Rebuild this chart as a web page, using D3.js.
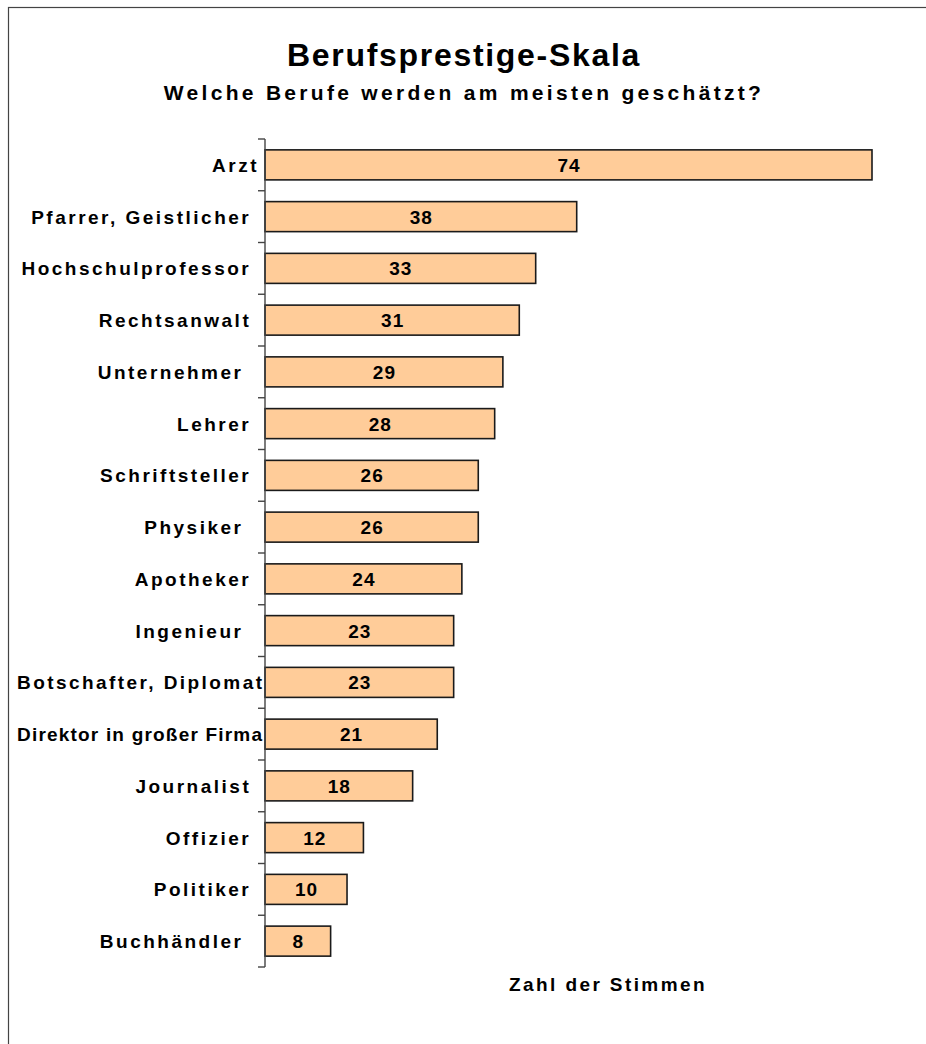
<!DOCTYPE html>
<html>
<head>
<meta charset="utf-8">
<script src="https://cdn.jsdelivr.net/npm/d3@7"></script>
<style>
  html, body { margin: 0; padding: 0; background: #fff; }
  svg { display: block; }
  text { font-family: Arial, "Liberation Sans", sans-serif; font-weight: bold; fill: #000; white-space: pre; }
</style>
</head>
<body>
<svg id="chart" width="926" height="1044"></svg>
<script>
const titleText = "Berufsprestige-Skala";
const subtitleText = "Welche Berufe werden am meisten geschätzt?";
const axisTitle = "Zahl der Stimmen";
const categories = [
  "Arzt", "Pfarrer, Geistlicher ", "Hochschulprofessor ", "Rechtsanwalt ",
  "Unternehmer  ", "Lehrer ", "Schriftsteller ", "Physiker  ",
  "Apotheker ", "Ingenieur  ", "Botschafter, Diplomat", "Direktor in großer Firma",
  "Journalist ", "Offizier ", "Politiker ", "Buchhändler  "
];
const values = [74, 38, 33, 31, 29, 28, 26, 26, 24, 23, 23, 21, 18, 12, 10, 8];

const svg = d3.select("#chart");

// outer frame
svg.append("rect")
  .attr("x", 8.5).attr("y", 7.5)
  .attr("width", 940).attr("height", 1060)
  .attr("fill", "none").attr("stroke", "#444").attr("stroke-width", 1.2);

const x = d3.scaleLinear().domain([0, 74]).range([265, 872]);
const y = d3.scaleBand().domain(categories).range([139, 967])
  .paddingInner(0.42).paddingOuter(0.21);

// titles
svg.append("text").attr("x", 464).attr("y", 66)
  .attr("text-anchor", "middle").style("font-size", "32px").style("letter-spacing", "1.7px")
  .text(titleText);
svg.append("text").attr("x", 464).attr("y", 100)
  .attr("text-anchor", "middle").style("font-size", "21px").style("letter-spacing", "3.3px")
  .text(subtitleText);

// bars
svg.append("g").selectAll("rect").data(values).join("rect")
  .attr("x", x(0))
  .attr("y", (d, i) => y(categories[i]))
  .attr("width", d => x(d) - x(0))
  .attr("height", y.bandwidth())
  .attr("fill", "#FFCC99")
  .attr("stroke", "#1a1a1a")
  .attr("stroke-width", 1.6);

// value labels
svg.append("g").selectAll("text").data(values).join("text")
  .attr("x", d => (x(0) + x(d)) / 2 + 0.5)
  .attr("y", (d, i) => y(categories[i]) + y.bandwidth() / 2 + 7)
  .attr("text-anchor", "middle")
  .style("font-size", "19px").style("letter-spacing", "1px")
  .text(d => d);

// axis
const axis = svg.append("g").attr("transform", `translate(${x(0)},0)`)
  .call(d3.axisLeft(y).tickSize(0).tickFormat(""));
axis.select(".domain").attr("stroke", "#444").attr("stroke-width", 1.4)
  .attr("d", `M0,${y.range()[0]}V${y.range()[1]}`);

// boundary ticks
const boundaries = d3.range(categories.length + 1)
  .map(i => y.range()[0] + i * y.step());
svg.append("g").selectAll("line").data(boundaries).join("line")
  .attr("x1", x(0) - 7).attr("x2", x(0))
  .attr("y1", d => d).attr("y2", d => d)
  .attr("stroke", "#444").attr("stroke-width", 1.4);

// category labels (shrink to fit the left margin if needed)
const labelEnd = x(0) - 6;
const labelStart = 17;
svg.append("g").selectAll("text").data(categories).join("text")
  .attr("x", labelEnd)
  .attr("y", d => y(d) + y.bandwidth() / 2 + 7)
  .attr("text-anchor", "end")
  .style("font-size", "19px").style("letter-spacing", "2.5px")
  .text(d => d)
  .each(function () {
    const w = this.getComputedTextLength();
    if (w > labelEnd - labelStart) {
      d3.select(this).style("letter-spacing", null)
        .attr("textLength", 245)
        .attr("lengthAdjust", "spacing")
        .attr("x", x(0) - 3);
    }
  });

// axis title
svg.append("text").attr("x", 608).attr("y", 991)
  .attr("text-anchor", "middle").style("font-size", "19px").style("letter-spacing", "2.4px")
  .text(axisTitle);
</script>
</body>
</html>
